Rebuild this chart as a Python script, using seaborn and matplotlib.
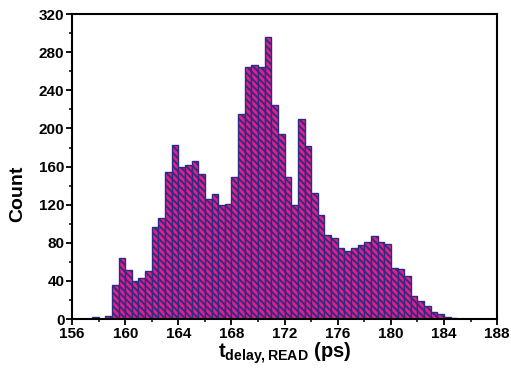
import numpy as np
import pandas as pd
import matplotlib
matplotlib.use("Agg")
import matplotlib.pyplot as plt
import seaborn as sns
from matplotlib.ticker import MultipleLocator

# Histogram of read delay: left bin edges (ps) and counts per 0.5 ps bin
bin_start = [157.5, 158.0, 158.5, 159.0, 159.5, 160.0, 160.5, 161.0, 161.5, 162.0,
             162.5, 163.0, 163.5, 164.0, 164.5, 165.0, 165.5, 166.0, 166.5, 167.0,
             167.5, 168.0, 168.5, 169.0, 169.5, 170.0, 170.5, 171.0, 171.5, 172.0,
             172.5, 173.0, 173.5, 174.0, 174.5, 175.0, 175.5, 176.0, 176.5, 177.0,
             177.5, 178.0, 178.5, 179.0, 179.5, 180.0, 180.5, 181.0, 181.5, 182.0,
             182.5, 183.0, 183.5, 184.0, 184.5]
counts = [2, 0, 3, 36, 64, 51, 40, 43, 50, 97,
          106, 154, 183, 160, 162, 166, 152, 126, 131, 120,
          121, 149, 215, 264, 267, 264, 296, 225, 194, 149,
          120, 210, 182, 132, 109, 88, 85, 75, 71, 75,
          78, 81, 87, 81, 79, 54, 53, 45, 24, 19,
          14, 7, 5, 2, 1]
bin_width = 0.5

x_ticks = [156, 160, 164, 168, 172, 176, 180, 184, 188]
y_ticks = [0, 40, 80, 120, 160, 200, 240, 280, 320]

sns.set_style("ticks")
plt.rcParams["font.family"] = ["Liberation Sans", "DejaVu Sans"]
plt.rcParams["font.weight"] = "bold"
plt.rcParams["text.color"] = "black"
plt.rcParams["axes.labelcolor"] = "black"
plt.rcParams["xtick.color"] = "black"
plt.rcParams["ytick.color"] = "black"
plt.rcParams["mathtext.fontset"] = "custom"
plt.rcParams["mathtext.rm"] = "Liberation Sans:bold"
plt.rcParams["mathtext.bf"] = "Liberation Sans:bold"
plt.rcParams["mathtext.it"] = "Liberation Sans:bold"
plt.rcParams["hatch.color"] = "#2b2a7c"
plt.rcParams["hatch.linewidth"] = 1.3

df = pd.DataFrame({"t": [b + bin_width / 2 for b in bin_start], "n": counts})

fig = plt.figure(figsize=(5.11, 3.71), dpi=100)
ax = fig.add_axes([0.141, 0.140, 0.832, 0.822])

sns.histplot(data=df, x="t", weights="n", binwidth=bin_width,
             binrange=(bin_start[0], bin_start[-1] + bin_width), ax=ax,
             color="#de1f8c", alpha=1.0, edgecolor="#2e2b80", linewidth=1.0,
             hatch="\\\\\\\\\\")

ax.set_xlim(156, 188)
ax.set_ylim(0, 320)
ax.set_xticks(x_ticks)
ax.set_yticks(y_ticks)
ax.xaxis.set_minor_locator(MultipleLocator(2))
ax.yaxis.set_minor_locator(MultipleLocator(20))
ax.tick_params(axis="both", which="major", direction="out", length=4, width=1.3,
               labelsize=11, pad=1.5, top=False, right=False, colors="black")
ax.tick_params(axis="both", which="minor", direction="out", length=2.5, width=1.1,
               top=False, right=False, colors="black")
for lab in ax.get_xticklabels() + ax.get_yticklabels():
    lab.set_fontweight("bold")

for side in ["top", "right", "bottom", "left"]:
    ax.spines[side].set_visible(True)
    ax.spines[side].set_linewidth(1.5)
    ax.spines[side].set_color("black")

ax.set_ylabel("Count", fontsize=14, fontweight="bold")
ax.yaxis.set_label_coords(-0.108, 0.41)
ax.set_xlabel(r"$\mathbf{t}_{\mathbf{delay,READ}}$ (ps)", fontsize=14.5,
              fontweight="bold", labelpad=0)

fig.savefig("out.png", dpi=100)
